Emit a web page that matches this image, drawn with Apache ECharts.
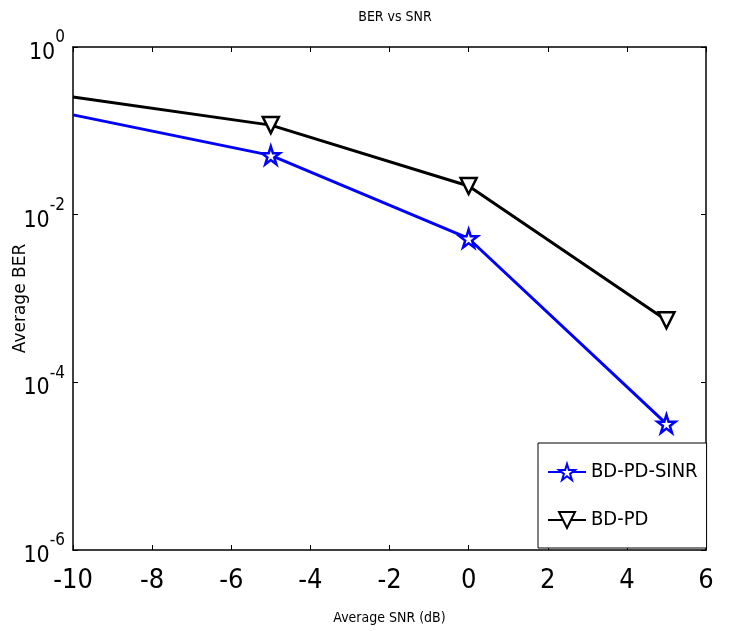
<!DOCTYPE html>
<html><head><meta charset="utf-8">
<script src="https://cdn.jsdelivr.net/npm/echarts@6/dist/echarts.min.js"></script>
<style>html,body{margin:0;padding:0;background:#fff}#c{width:729px;height:631px}</style>
</head><body><div id="c"></div>
<script>
const snr = [-10, -5, 0, 5];
const berSinr = [0.155, 0.051, 0.0052, 0.000032];
const berPd = [0.253, 0.117, 0.022, 0.00055];
const seriesNames = ['BD-PD-SINR', 'BD-PD'];
const xTicks = [-10, -8, -6, -4, -2, 0, 2, 4, 6];
const yTickExps = [0, -2, -4, -6];

const FONT = "'Liberation Sans Narrow', 'DejaVu Sans Condensed', 'Arial Narrow', 'Liberation Sans', Arial, sans-serif";
const starPath = 'path://M50,0 L61.8,36.3 L100,36.3 L69.1,58.8 L80.9,95.1 L50,72.6 L19.1,95.1 L30.9,58.8 L0,36.3 L38.2,36.3 Z';

function pts(ys) {
  return snr.map((x, i) => ({ value: [x, ys[i]], symbolSize: i === 0 ? 0 : undefined }));
}

const chart = echarts.init(document.getElementById('c'));
chart.setOption({
  animation: false,
  backgroundColor: '#fff',
  title: {
    text: 'BER vs SNR', left: 390, top: 5, textAlign: 'center',
    textStyle: { fontFamily: FONT, fontSize: 14, fontWeight: 'normal', color: '#000' }
  },
  grid: { left: 73, right: 23, top: 47, bottom: 81, containLabel: false, outerBoundsMode: 'none' },
  legend: {
    orient: 'vertical', left: 538, top: 443,
    backgroundColor: '#fff', borderColor: '#000', borderWidth: 1,
    padding: [19, 9, 18, 9], itemGap: 28, itemWidth: 38, itemHeight: 20,
    textStyle: { fontFamily: FONT, fontSize: 20, color: '#000' },
    data: seriesNames
  },
  xAxis: [{
    type: 'value', min: -10, max: 6, interval: 2,
    name: 'Average SNR (dB)', nameLocation: 'middle', nameGap: 61, nameMoveOverlap: false,
    nameTextStyle: { fontFamily: FONT, fontSize: 14, color: '#000' },
    axisLine: { onZero: false, lineStyle: { color: '#000', width: 1.5 } },
    axisTick: { inside: true, length: 5, lineStyle: { color: '#000' } },
    axisLabel: { fontFamily: FONT, fontSize: 27, color: '#000', margin: 17,
      formatter: v => xTicks.includes(v) ? String(v) : '' },
    splitLine: { show: false }
  }, {
    type: 'value', position: 'top', min: -10, max: 6, interval: 2,
    axisLine: { show: true, onZero: false, lineStyle: { color: '#000', width: 1.5 } },
    axisTick: { inside: true, length: 5, lineStyle: { color: '#000' } },
    axisLabel: { show: false }, splitLine: { show: false }
  }],
  yAxis: [{
    type: 'log', logBase: 10, min: 1e-6, max: 1, interval: 2, position: 'left',
    name: 'Average BER', nameLocation: 'middle', nameGap: 44, nameMoveOverlap: false,
    nameTextStyle: { fontFamily: "'DejaVu Sans', 'Liberation Sans', Arial, sans-serif", fontSize: 17, color: '#000' },
    axisLine: { show: true, onZero: false, lineStyle: { color: '#000', width: 1.5 } },
    axisTick: { inside: true, length: 5, lineStyle: { color: '#000' } },
    axisLabel: {
      margin: 8,
      formatter: v => {
        const e = Math.round(Math.log10(v));
        return yTickExps.includes(e) ? '{b|10}{s|' + e + '}' : '';
      },
      rich: {
        b: { fontFamily: FONT, fontSize: 23, color: '#000', verticalAlign: 'bottom', padding: [12, 0, 0, 0] },
        s: { fontFamily: FONT, fontSize: 17, color: '#000', verticalAlign: 'top', padding: [0, 0, 16, 0] }
      }
    },
    splitLine: { show: false }
  }, {
    type: 'log', logBase: 10, min: 1e-6, max: 1, interval: 2, position: 'right',
    axisLine: { show: true, onZero: false, lineStyle: { color: '#000', width: 1.5 } },
    axisTick: { inside: true, length: 5, lineStyle: { color: '#000' } },
    axisLabel: { show: false }, splitLine: { show: false }
  }],
  series: [{
    name: seriesNames[0], type: 'line', data: pts(berSinr),
    symbol: starPath, symbolSize: 18, showAllSymbol: true,
    lineStyle: { color: '#0000ff', width: 3 },
    itemStyle: { color: '#ffffff', borderColor: '#0000ff', borderWidth: 2.5 },
    z: 3
  }, {
    name: seriesNames[1], type: 'line', data: pts(berPd),
    symbol: 'triangle', symbolRotate: 180, symbolSize: 16, showAllSymbol: true,
    lineStyle: { color: '#000', width: 3 },
    itemStyle: { color: '#ffffff', borderColor: '#000', borderWidth: 2.5 },
    z: 2
  }]
});
</script></body></html>
